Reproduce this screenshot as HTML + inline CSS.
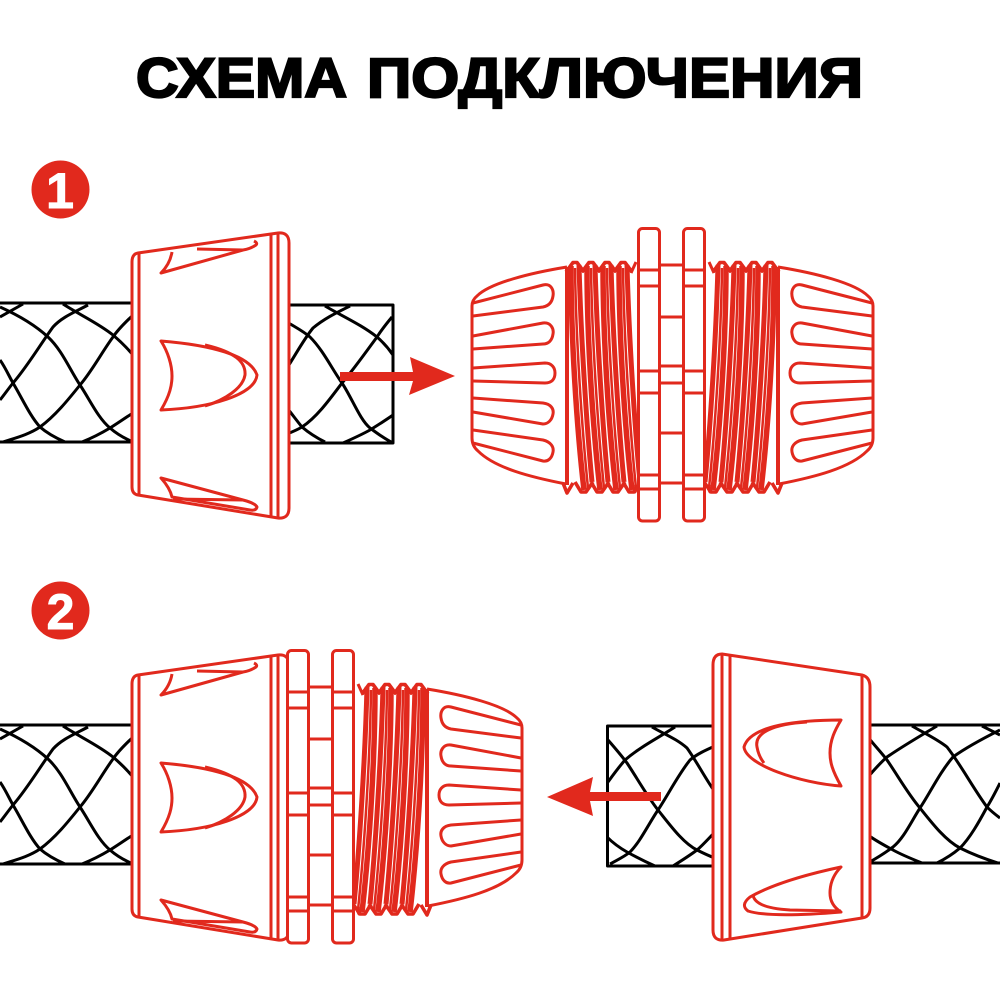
<!DOCTYPE html>
<html><head><meta charset="utf-8"><style>html,body{margin:0;padding:0;background:#fff}svg{display:block}</style></head>
<body>
<svg xmlns="http://www.w3.org/2000/svg" width="1000" height="1000" viewBox="0 0 1000 1000">
<defs>
<g id="hoseL" fill="none" stroke="#000" stroke-width="3" stroke-linejoin="round">
<path d="M0,303H133M0,442H134"/>
<path d="M0,307C20,316 35,325 48,337C62,350 70,370 80,385C90,400 98,418 110,428C118,435 126,439 133,442"/>
<path d="M23,304L0,317"/>
<path d="M63,304C80,315 98,323 113,335C120,341 128,349 133,355"/>
<path d="M88,305C75,312 62,317 53,327C40,345 27,367 13,383C9,388 4,395 0,400"/>
<path d="M133,315C126,322 119,328 113,337C102,352 92,371 80,385C68,400 55,416 40,427C28,435 15,438 3,442"/>
<path d="M0,360C5,367 9,376 13,383C22,398 30,416 40,427C48,434 56,438 65,442"/>
<path d="M133,413C125,418 118,423 110,428C100,434 92,438 82,442"/>
</g>
<g id="nut" fill="none" stroke="#e1291d" stroke-width="3" stroke-linejoin="round">
<path d="M138,253L278,233Q289,232 289,243V508Q289,519 278,518L138,495Q132,494 132,487V262Q132,254 138,253Z" fill="#fff"/>
<path d="M139,252V496M271,235V516M278,234V518"/>
<path d="M161,341C210,345 250,355 257,375C255,395 210,408 161,410C170,395 172,385 172,376C172,365 168,352 161,341Z"/>
<path d="M205,345C235,352 246,362 245,375C243,388 225,400 205,406"/>
<path d="M172,252Q170,264 161,273L243,250Q250,249 256,245Q258,243 254,241"/>
<path d="M197,249L243,250"/>
<path d="M161,478L243,500Q255,503 257,507Q256,511 250,510L172,497Q170,488 161,478Z"/>
<path d="M173,499L243,500"/>
</g>
<g id="plates" fill="none" stroke="#e1291d" stroke-width="3" stroke-linejoin="round">
<rect x="638.500" y="228.500" width="21" height="292.500" rx="4" fill="#fff"/>
<rect x="683.500" y="228.500" width="21" height="292.500" rx="4" fill="#fff"/>
<path d="M638,270H660M638,286H660M638,371H660M638,393H660M638,475H660M638,489H660"/>
<path d="M683,270H705M683,286H705M683,371H705M683,393H705M683,475H705M683,489H705"/>
<path d="M660,265H683M660,317H683M660,366H683M660,383H683M660,433H683M660,483H683"/>
</g>
<g id="t" fill="none" stroke="#e1291d" stroke-linejoin="round">
<path stroke-width="3.600" d="M566,272L573,262.500L577,262.500L584,272"/>
<path stroke-width="5.500" d="M571,266C571,340 577,430 584,490"/>
<path stroke-width="5" d="M579,265C581,340 587,430 592,482"/>
<path stroke-width="2.500" d="M575,268C576,340 582,430 588,488"/>
<path stroke-width="3.600" d="M575,482L581,492L586,492L593,482"/>
</g>
<g id="thread" fill="none" stroke="#e1291d" stroke-linejoin="round">
<use href="#t"/><use href="#t" x="16"/><use href="#t" x="32"/><use href="#t" x="48"/>
<path stroke-width="4" d="M567,267V485"/>
<path stroke-width="3.600" d="M563,483L567,493L573,483"/>
<path stroke-width="3" d="M631,273L636,262"/>
<path stroke-width="3" d="M631,480L635,492L638,486"/>
</g>
<g id="body" fill="none" stroke="#e1291d" stroke-width="3" stroke-linejoin="round">
<path d="M567,267C530,273 490,283 477,296Q472,300 472,306V438Q472,446 478,451C495,468 530,477 566,484"/>
<path d="M473,303L543,285C551,283 554,290 553,296C552,303 548,306 543,307L473,316"/>
<path d="M473,336L543,323C551,322 554,329 553,334C552,341 548,344 543,344L473,349"/>
<path d="M473,368L545,363C552,363 555,368 555,373C555,379 552,383 545,383L473,381"/>
<path d="M473,398L543,403C551,404 554,409 553,414C552,420 548,424 543,424L473,412"/>
<path d="M473,430L543,440C551,442 554,447 553,452C552,458 548,462 543,461L473,443"/>
</g>
</defs>

<rect width="1000" height="1000" fill="#fff"/>

<g font-family="'Liberation Sans',sans-serif" font-weight="700" font-size="56" fill="#000" stroke="#000" stroke-width="2.200">
<text x="136" y="97" textLength="211" lengthAdjust="spacingAndGlyphs">СХЕМА</text>
<text x="367" y="97" textLength="496" lengthAdjust="spacingAndGlyphs">ПОДКЛЮЧЕНИЯ</text>
</g>

<circle cx="60.500" cy="189.500" r="29" fill="#e1291d"/>
<circle cx="60.500" cy="610.500" r="29" fill="#e1291d"/>
<g font-family="'Liberation Sans',sans-serif" font-weight="700" font-size="50" fill="#fff" stroke="#fff" stroke-width="1" text-anchor="middle">
<text x="60" y="208">1</text>
<text x="60.500" y="629">2</text>
</g>

<!-- step 1 -->
<use href="#hoseL"/>
<g fill="none" stroke="#000" stroke-width="3" stroke-linejoin="round">
<path d="M287,305H393V443H287"/>
<path d="M287,322C295,327 303,331 310,337C323,350 332,369 342,383C352,398 360,420 370,428C378,434 385,439 393,443"/>
<path d="M287,368C296,354 304,339 313,328C325,318 338,312 350,306"/>
<path d="M325,306C342,316 362,325 377,337C384,343 389,349 393,355"/>
<path d="M392,317C387,323 382,329 377,337C366,352 354,369 342,383C330,399 317,417 302,427C297,430 292,432 287,434"/>
<path d="M287,408C292,414 297,421 302,427C309,433 317,438 325,442"/>
<path d="M393,415C386,420 378,425 370,430C361,435 352,439 343,443"/>
</g>
<use href="#nut"/>
<path d="M340,372H413L410,357L455,376L409,395L413,381H340Z" fill="#e1291d"/>

<use href="#thread"/><use href="#body"/>
<g transform="matrix(-1 0 0 1 1345 0)"><use href="#thread"/><use href="#body"/></g>
<use href="#plates"/>

<!-- step 2 left -->
<use href="#hoseL" y="422"/>
<use href="#nut" y="422"/>
<g transform="matrix(-1 0 0 1 994 422)"><use href="#thread"/><use href="#body"/></g>
<use href="#plates" x="-351" y="422"/>

<!-- step 2 right -->
<g fill="none" stroke="#000" stroke-width="3" stroke-linejoin="round">
<path d="M716,726H607.500V866H716"/>
<path d="M608,740C615,748 621,755 627,763C637,778 647,796 658,810C670,825 683,843 697,850C703,853 709,856 715,858"/>
<path d="M715,746C706,750 697,754 690,760C678,775 668,795 658,810C648,825 640,842 630,852C624,857 617,860 610,864"/>
<path d="M652,727C664,734 677,739 687,748C697,762 705,778 715,792"/>
<path d="M675,727C658,738 640,747 625,760C619,767 613,775 608,782"/>
<path d="M607,837C613,843 620,848 627,852C636,857 646,862 655,866"/>
<path d="M715,832C709,838 703,845 697,850C689,856 681,861 673,866"/>
<path d="M868,725H1000M868,863H1000"/>
<path d="M868,737C874,745 881,752 887,760C898,776 908,794 920,808C932,823 945,840 960,848C972,854 985,859 998,863"/>
<path d="M868,777C874,770 880,763 887,757C903,746 920,736 937,726"/>
<path d="M912,726C924,733 937,739 947,747C961,765 973,788 987,807C991,811 996,815 1000,818"/>
<path d="M1000,730C984,738 967,747 953,757C940,772 930,793 920,808C911,822 904,838 893,847C885,853 877,858 868,863"/>
<path d="M868,835C876,841 884,845 893,850C902,855 912,859 922,863"/>
<path d="M1000,783C996,791 992,799 987,807C979,822 970,838 960,848C953,854 945,859 937,863"/>
<path d="M982,726L1000,735"/>
</g>
<g fill="none" stroke="#e1291d" stroke-width="3" stroke-linejoin="round">
<path d="M722,654L862,675Q870,677 870,687V908Q870,917 862,918L724,940Q713,941 713,930V665Q713,654 722,654Z" fill="#fff"/>
<path d="M722,654V940M730,655V939M862,675V918"/>
<path d="M841,720C800,720 750,725 744,747C746,765 800,783 841,786C832,770 830,762 830,753C830,740 835,730 841,720Z"/>
<path d="M807,722C775,724 754,732 757,747C758,753 760,758 764,763"/>
<path d="M841,867Q780,880 750,897Q740,905 748,911Q770,918 841,912Q830,905 830,893Q830,878 841,867Z"/>
<path d="M753,895Q755,908 790,910L841,911"/>
</g>
<path d="M661,792H590L593,777L547,797L593,816L590,801H661Z" fill="#e1291d"/>
</svg>
</body></html>
